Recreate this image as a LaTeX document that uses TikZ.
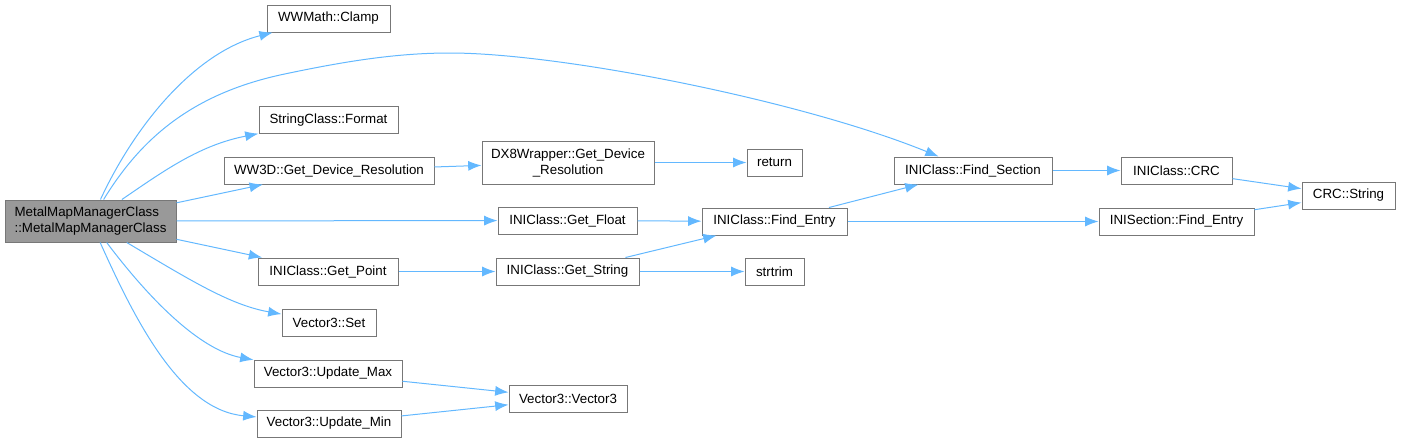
\documentclass[tikz,border=0pt]{standalone}
\usepackage{fontspec}
\setmainfont{Liberation Sans}
\usetikzlibrary{arrows.meta}
\definecolor{edgecol}{HTML}{63B8FF}
\definecolor{bordercol}{HTML}{777777}
\definecolor{mainfill}{HTML}{999999}
\tikzset{
  box/.style={draw=bordercol, fill=white, line width=0.75pt, inner sep=0pt,
    font=\fontsize{10pt}{12pt}\selectfont, minimum height=27*0.75pt},
  mainbox/.style={box, fill=mainfill, align=left, minimum height=42*0.75pt},
  edge/.style={draw=edgecol, line width=0.75pt, -{Latex[length=10pt,width=7.5pt]}},
}
\begin{document}
\begin{tikzpicture}[x=0.75pt, y=-0.75pt]
\useasboundingbox (0,0) rectangle (1401,443);
% nodes
\node[mainbox, minimum width=171*0.75pt] (main) at (90.5,221) {MetalMapManagerClass\\::MetalMapManagerClass};
\node[box, minimum width=123*0.75pt] (clamp) at (328.5,18.5) {WWMath::Clamp};
\node[box, minimum width=139*0.75pt] (format) at (328.5,120) {StringClass::Format};
\node[box, minimum width=210*0.75pt] (ww3d) at (329,170.5) {WW3D::Get\_Device\_Resolution};
\node[box, align=center, minimum width=172*0.75pt, minimum height=43*0.75pt] (dx8) at (568,162.5) {DX8Wrapper::Get\_Device\\\_Resolution};
\node[box, minimum width=55*0.75pt] (ret) at (774.5,162.5) {return};
\node[box, minimum width=158*0.75pt] (findsec) at (973,170.5) {INIClass::Find\_Section};
\node[box, minimum width=145*0.75pt] (findentry) at (774.5,221.5) {INIClass::Find\_Entry};
\node[box, minimum width=59*0.75pt] (strtrim) at (774.5,271.5) {strtrim};
\node[box, minimum width=111*0.75pt] (crc) at (1176.5,170.5) {INIClass::CRC};
\node[box, minimum width=155*0.75pt] (inisec) at (1176.5,221.5) {INISection::Find\_Entry};
\node[box, minimum width=93*0.75pt] (crcstr) at (1348.5,195.5) {CRC::String};
\node[box, minimum width=139*0.75pt] (getfloat) at (567.5,220.5) {INIClass::Get\_Float};
\node[box, minimum width=140*0.75pt] (getpoint) at (328,271.5) {INIClass::Get\_Point};
\node[box, minimum width=143*0.75pt] (getstring) at (567.5,271.5) {INIClass::Get\_String};
\node[box, minimum width=94*0.75pt] (vset) at (329,322.5) {Vector3::Set};
\node[box, minimum width=148*0.75pt] (umax) at (328,373.5) {Vector3::Update\_Max};
\node[box, minimum width=144*0.75pt] (umin) at (329,423.5) {Vector3::Update\_Min};
\node[box, minimum width=118*0.75pt] (vec) at (568,398.5) {Vector3::Vector3};
% edges
\draw[edge] (main) .. controls (135,125) and (195,52) .. (clamp);
\draw[edge] (main) .. controls (140,140) and (190,95) .. (280,75)
  .. controls (350,60) and (400,53) .. (450,53)
  .. controls (560,53) and (800,100) .. (findsec);
\draw[edge] (main) .. controls (165,170) and (200,145) .. (format);
\draw[edge] (main) -- (ww3d);
\draw[edge] (main) -- (getfloat);
\draw[edge] (main) -- (getpoint);
\draw[edge] (main) .. controls (190,280) and (230,305) .. (vset);
\draw[edge] (main) .. controls (150,300) and (200,350) .. (umax);
\draw[edge] (main) .. controls (135,320) and (180,410) .. (umin);
\draw[edge] (ww3d) -- (dx8);
\draw[edge] (dx8) -- (ret);
\draw[edge] (getfloat) -- (findentry);
\draw[edge] (getpoint) -- (getstring);
\draw[edge] (getstring) -- (findentry);
\draw[edge] (getstring) -- (strtrim);
\draw[edge] (findentry) -- (findsec);
\draw[edge] (findentry) -- (inisec);
\draw[edge] (findsec) -- (crc);
\draw[edge] (crc) -- (crcstr);
\draw[edge] (inisec) -- (crcstr);
\draw[edge] (umax) -- (vec);
\draw[edge] (umin) -- (vec);
\end{tikzpicture}
\end{document}
